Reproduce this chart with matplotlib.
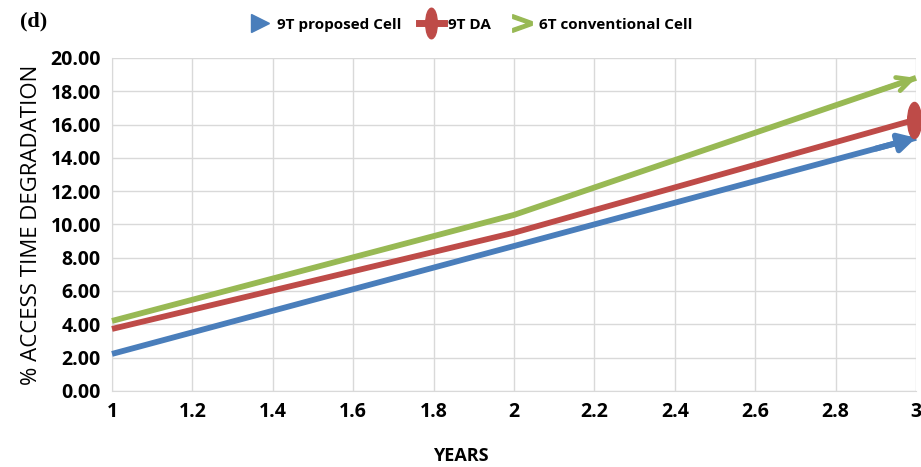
import matplotlib
matplotlib.use("Agg")
import matplotlib.pyplot as plt
from matplotlib.lines import Line2D
from matplotlib.path import Path
from matplotlib.transforms import Affine2D

years = [1, 2, 3]
proposed_9t = [2.22, 8.70, 15.20]
da_9t = [3.72, 9.50, 16.30]
conventional_6t = [4.20, 10.57, 18.80]

series_names = ["9T proposed Cell", "9T DA", "6T conventional Cell"]
colors = ["#4a7ebb", "#be4b48", "#98b954"]

x_ticks = [1, 1.2, 1.4, 1.6, 1.8, 2, 2.2, 2.4, 2.6, 2.8, 3]
y_ticks = [0, 2, 4, 6, 8, 10, 12, 14, 16, 18, 20]

# tall oval used as the end cap of the 9T DA line
oval = Path.unit_circle().transformed(Affine2D().scale(0.38, 1.0))

fig = plt.figure(figsize=(9.21, 4.67), dpi=100)
ax = fig.add_axes([0.1216, 0.163, 0.8730, 0.713])

lw = 4.2
for ys, c in zip([proposed_9t, da_9t, conventional_6t], colors):
    ax.plot(years, ys, color=c, lw=lw, solid_capstyle="butt", zorder=3, clip_on=False)


def tail(ys, frac=0.9):
    return (years[-2] + frac, ys[-2] + frac * (ys[-1] - ys[-2]))


ax.annotate("", xy=(years[-1], proposed_9t[-1]), xytext=tail(proposed_9t),
            arrowprops=dict(arrowstyle="-|>,head_length=1.0,head_width=0.55", color=colors[0], lw=lw,
                            shrinkA=0, shrinkB=0),
            annotation_clip=False, zorder=4)
ax.plot([years[-1] - 0.006], [da_9t[-1]], marker=oval, markersize=26, color=colors[1],
        lw=0, zorder=4, clip_on=False)
ax.annotate("", xy=(years[-1], conventional_6t[-1]), xytext=tail(conventional_6t),
            arrowprops=dict(arrowstyle="->,head_length=1.0,head_width=0.5", color=colors[2], lw=lw - 0.8,
                            shrinkA=0, shrinkB=0),
            annotation_clip=False, zorder=4)

ax.set_xlim(1, 3)
ax.set_ylim(0, 20)
ax.set_xticks(x_ticks)
ax.set_xticklabels([f"{t:g}" for t in x_ticks])
ax.set_yticks(y_ticks)
ax.set_yticklabels([f"{t:.2f}" for t in y_ticks])
ax.grid(True, color="#d9d9d9", lw=1)
ax.set_axisbelow(True)
for s in ["top", "right"]:
    ax.spines[s].set_visible(False)
for s in ["left", "bottom"]:
    ax.spines[s].set_color("#d9d9d9")
ax.tick_params(length=0, pad=8)
for lab in ax.get_xticklabels() + ax.get_yticklabels():
    lab.set_fontweight("bold")
    lab.set_fontsize(14)
    lab.set_fontfamily("Open Sans")

ax.set_ylabel("% ACCESS TIME DEGRADATION", fontsize=16, family="Open Sans", labelpad=6)
fig.text(0.5, 0.004, "YEARS", ha="center", va="bottom", fontsize=13, fontweight="bold", family="Open Sans")
fig.text(0.022, 0.955, "(d)", fontsize=16, fontweight="bold", family="Liberation Serif", ha="left", va="center")

handles = [
    Line2D([], [], color=colors[0], lw=0, marker=">", ms=13),
    Line2D([], [], color=colors[1], lw=5, marker=oval, ms=22),
    Line2D([], [], color=colors[2], lw=0, marker=r"$\mathbf{>}$", ms=14),
]
fig.legend(handles, series_names, loc="center", bbox_to_anchor=(0.51, 0.947), ncol=3, frameon=False,
           prop=dict(family="Open Sans", weight="bold", size=11), handlelength=1.6,
           columnspacing=1.2, handletextpad=0.3)

fig.savefig("out.png", dpi=100)
